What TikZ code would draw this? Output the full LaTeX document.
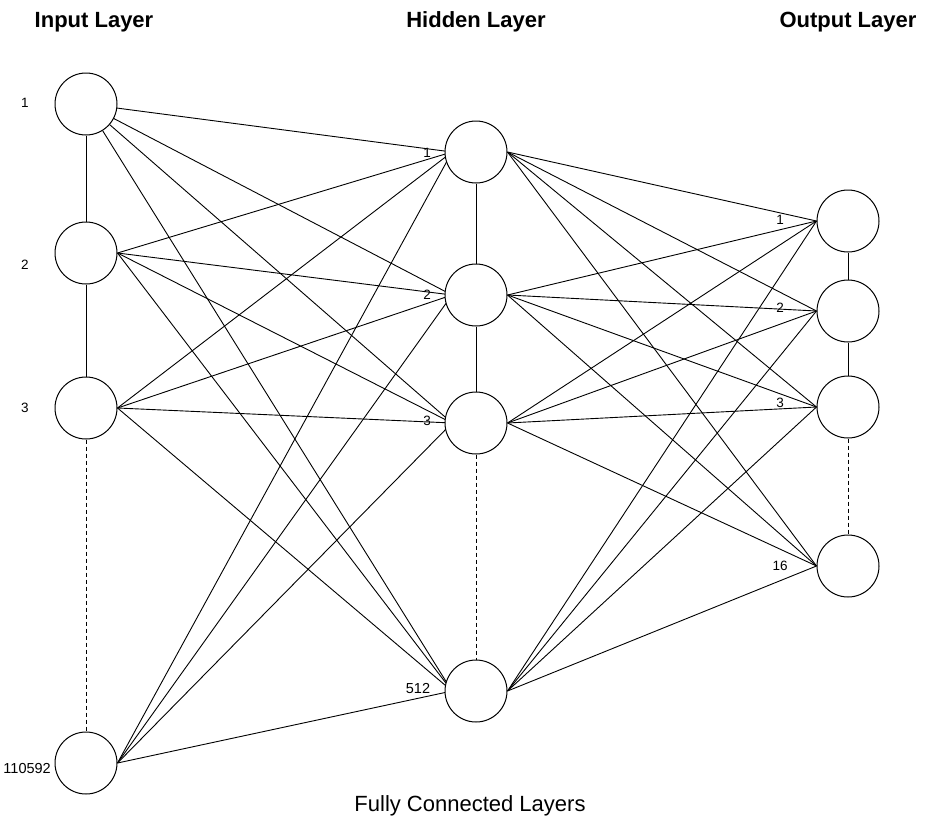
\documentclass[tikz,border=0pt]{standalone}
\usepackage{fontspec}
\setmainfont{Liberation Sans}
\usetikzlibrary{calc}
\pgfdeclarelayer{bg}
\pgfsetlayers{bg,main}
\begin{document}
\begin{tikzpicture}[x=1pt,y=-1pt,
  neuron/.style={circle,draw,line width=1pt,fill=white,minimum size=62pt,inner sep=0pt},
  conn/.style={line width=0.9pt},
  link/.style={line width=1pt},
  gap/.style={line width=1pt,dashed,dash pattern=on 4pt off 3pt},
  title/.style={font=\fontsize{22}{25}\selectfont\bfseries,inner sep=0pt},
  idx/.style={font=\fontsize{13.5}{15}\selectfont,inner sep=0pt},
  bigidx/.style={font=\fontsize{14.5}{16}\selectfont,inner sep=0pt}]
\useasboundingbox (0,0) rectangle (926,830);

% layer titles
\node[title] (tin)  at (94,22)  {Input Layer};
\node[title] (thid) at (476,22) {Hidden Layer};
\node[title] (tout) at (848,22) {Output Layer};
\node[font=\fontsize{22}{25}\selectfont,inner sep=0pt] (cap) at (470,806) {Fully Connected Layers};

% neurons
\node[neuron] (i1) at (86,104) {};
\node[neuron] (i2) at (86,253) {};
\node[neuron] (i3) at (86,408) {};
\node[neuron] (i4) at (86,763) {};

\node[neuron] (h1) at (476,152) {};
\node[neuron] (h2) at (476,295) {};
\node[neuron] (h3) at (476,423) {};
\node[neuron] (h4) at (476,691) {};

\node[neuron] (o1) at (848,221) {};
\node[neuron] (o2) at (848,311) {};
\node[neuron] (o3) at (848,407) {};
\node[neuron] (o4) at (848,566) {};

% index labels
\node[idx] (li1) at (25,103) {1};
\node[idx] (li2) at (25,265) {2};
\node[idx] (li3) at (25,408) {3};
\node[bigidx,anchor=east] (li4) at (51,768) {110592};

\node[idx] (lh1) at (427,153) {1};
\node[idx] (lh2) at (427,295) {2};
\node[idx] (lh3) at (427,421) {3};
\node[bigidx] (lh4) at (418,688) {512};

\node[idx] (lo1) at (780,220) {1};
\node[idx] (lo2) at (780,308) {2};
\node[idx] (lo3) at (780,403) {3};
\node[idx] (lo4) at (780,566) {16};

% entry points on the hidden neurons
\foreach \h in {1,...,4}
  \coordinate (e\h) at ($(h\h.center)+(-24,0)$);

\begin{pgfonlayer}{bg}
  % input -> hidden
  \foreach \h in {1,...,4} {
    \draw[conn] (i1) -- (e\h);
    \draw[conn] (i2.east) -- (e\h);
    \draw[conn] (i3.east) -- (e\h);
    \draw[conn] (i4.east) -- (e\h);
  }
  % hidden -> output
  \foreach \h in {1,...,4}
    \foreach \o in {1,...,4}
      \draw[conn] (h\h.east) -- (o\o.west);
\end{pgfonlayer}

% links along each layer
\draw[link] (i1) -- (i2);
\draw[link] (i2) -- (i3);
\draw[gap]  (i3) -- (i4);
\draw[link] (h1) -- (h2);
\draw[link] (h2) -- (h3);
\draw[gap]  (h3) -- (h4);
\draw[link] (o1) -- (o2);
\draw[link] (o2) -- (o3);
\draw[gap]  (o3) -- (o4);
\end{tikzpicture}
\end{document}
